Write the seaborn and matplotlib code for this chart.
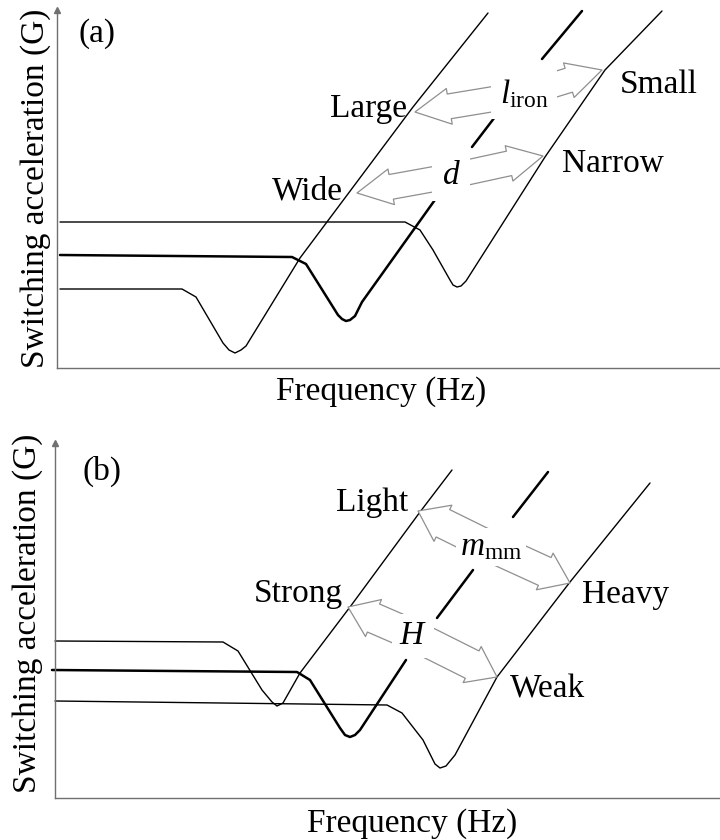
import pandas as pd
import seaborn as sns
import matplotlib.pyplot as plt
from matplotlib.patches import FancyArrowPatch

sns.set_theme(style='white')
plt.rcParams['font.family'] = ['Liberation Serif', 'DejaVu Serif']
plt.rcParams['text.color'] = 'black'
plt.rcParams['mathtext.fontset'] = 'custom'
plt.rcParams['mathtext.rm'] = 'Liberation Serif'
plt.rcParams['mathtext.it'] = 'Liberation Serif:italic'

# Schematic curves (arbitrary frequency / acceleration units)
# Panel (a)
a_low_f = [3, 125, 139, 166, 172, 178, 184, 189, 243, 356, 431]
a_low_g = [79, 79, 71, 25, 18, 15, 18, 22, 110, 261, 355]

a_mid_f = [3, 235, 249, 281, 285, 289, 293, 298, 305, 380, 415, 441, 485, 525]
a_mid_g = [113, 111, 104, 53, 49, 47, 48, 52, 66, 171, 221, 255, 309, 357]
a_mid_seg = [0, 0, 0, 0, 0, 0, 0, 0, 0, 0, 1, 1, 2, 2]

a_high_f = [3, 348, 363, 376, 393, 396, 400, 404, 409, 488, 548, 605]
a_high_g = [146, 146, 138, 118, 88, 83, 81, 82, 87, 211, 298, 357]

# Panel (b)
b_high_f = [0, 168, 183, 207, 217, 222, 228, 245, 295, 365, 397]
b_high_g = [157, 156, 147, 108, 96, 92, 95, 125, 191, 286, 328]

b_mid_f = [-3, 242, 255, 285, 290, 295, 300, 305, 351, 382, 418, 458, 493]
b_mid_g = [128, 126, 118, 70, 63, 61, 63, 68, 138, 180, 228, 281, 326]
b_mid_seg = [0, 0, 0, 0, 0, 0, 0, 0, 0, 1, 1, 2, 2]

b_low_f = [0, 332, 347, 368, 380, 385, 391, 400, 442, 515, 595]
b_low_g = [97, 93, 85, 58, 34, 30, 32, 43, 121, 216, 315]

AXIS_GRAY = '#707070'
ARROW_GRAY = '#8f8f8f'
FS = 24


def draw_curve(ax, f, g, lw, seg=None):
    df = pd.DataFrame({'f': f, 'g': g, 'seg': seg if seg is not None else [0] * len(f)})
    sns.lineplot(data=df, x='f', y='g', units='seg', estimator=None, sort=False,
                 color='black', lw=lw, ax=ax, clip_on=False, zorder=2)


def double_arrow(ax, center, tips, head_l, head_w, tail_w):
    style = f'simple,head_length={head_l},head_width={head_w},tail_width={tail_w}'
    for tip in tips:
        ax.add_patch(FancyArrowPatch(center, tip, arrowstyle=style, mutation_scale=1,
                                     fc='white', ec=ARROW_GRAY, lw=0.9,
                                     shrinkA=0, shrinkB=0, zorder=3))


def style_axes(ax, xmax, ymax):
    ax.set_xlim(0, xmax)
    ax.set_ylim(0, ymax)
    ax.set_xticks([])
    ax.set_yticks([])
    ax.set_xlabel('')
    ax.set_ylabel('')
    for side in ['top', 'right']:
        ax.spines[side].set_visible(False)
    for side in ['left', 'bottom']:
        ax.spines[side].set_color(AXIS_GRAY)
        ax.spines[side].set_linewidth(1.0)
    ax.plot([0], [1], marker='^', ms=4, color=AXIS_GRAY, transform=ax.transAxes,
            clip_on=False)


def axis_labels(ax, xpos, ypos):
    ax.text(xpos[0], xpos[1], 'Frequency (Hz)', fontsize=FS, ha='center',
            va='baseline', transform=ax.transAxes, clip_on=False)
    ax.text(ypos[0], ypos[1], 'Switching acceleration (G)', fontsize=FS,
            rotation=90, ha='center', va='center',
            transform=ax.transAxes, clip_on=False)


fig = plt.figure(figsize=(7.2, 8.4), dpi=100)
ax_a = fig.add_axes([57 / 720, (840 - 368) / 840, 663 / 720, 358 / 840])
ax_b = fig.add_axes([55 / 720, (840 - 798) / 840, 665 / 720, 355 / 840])

# ---- panel (a)
draw_curve(ax_a, a_low_f, a_low_g, 1.0)
draw_curve(ax_a, a_mid_f, a_mid_g, 1.8, a_mid_seg)
draw_curve(ax_a, a_high_f, a_high_g, 1.0)
style_axes(ax_a, 663, 358)

ax_a.text(21, 326, '(a)', fontsize=FS, ha='left', va='baseline')
ax_a.text(350, 251, 'Large', fontsize=FS, ha='right', va='baseline')
ax_a.text(286, 168, 'Wide', fontsize=FS, ha='right', va='baseline')
ax_a.text(563, 275, 'Small', fontsize=FS, ha='left', va='baseline')
ax_a.text(505, 196, 'Narrow', fontsize=FS, ha='left', va='baseline')

double_arrow(ax_a, (467, 274), [(358, 256), (545, 298)], 25, 26, 18)
double_arrow(ax_a, (394, 192), [(300, 175), (486, 212)], 25, 26, 18)
ax_a.text(467, 274, r'$l_{\mathrm{iron}}$', fontsize=FS, ha='center', va='center',
          zorder=5, bbox=dict(fc='white', ec='none', pad=6))
ax_a.text(394, 192, r'$d$', fontsize=FS, ha='center', va='center',
          zorder=5, bbox=dict(fc='white', ec='none', pad=7))
axis_labels(ax_a, (0.489, -0.089), (-0.033, 0.503))

# ---- panel (b)
draw_curve(ax_b, b_high_f, b_high_g, 1.0)
draw_curve(ax_b, b_mid_f, b_mid_g, 1.8, b_mid_seg)
draw_curve(ax_b, b_low_f, b_low_g, 1.0)
style_axes(ax_b, 665, 355)

ax_b.text(27, 318, '(b)', fontsize=FS, ha='left', va='baseline')
ax_b.text(353, 287, 'Light', fontsize=FS, ha='right', va='baseline')
ax_b.text(288, 196, 'Strong', fontsize=FS, ha='right', va='baseline')
ax_b.text(527, 195, 'Heavy', fontsize=FS, ha='left', va='baseline')
ax_b.text(455, 100, 'Weak', fontsize=FS, ha='left', va='baseline')

double_arrow(ax_b, (434, 252), [(363, 287), (515, 215)], 20, 29, 22)
double_arrow(ax_b, (360, 162), [(293, 191), (442, 121)], 20, 29, 22)
ax_b.text(436, 251, r'$m_{\mathrm{mm}}$', fontsize=FS, ha='center', va='center',
          zorder=5, bbox=dict(fc='white', ec='none', pad=3))
ax_b.text(358, 162, r'$H$', fontsize=FS, ha='center', va='center',
          zorder=5, bbox=dict(fc='white', ec='none', pad=5))
axis_labels(ax_b, (0.537, -0.096), (-0.041, 0.521))

fig.savefig('out.png', dpi=100)
